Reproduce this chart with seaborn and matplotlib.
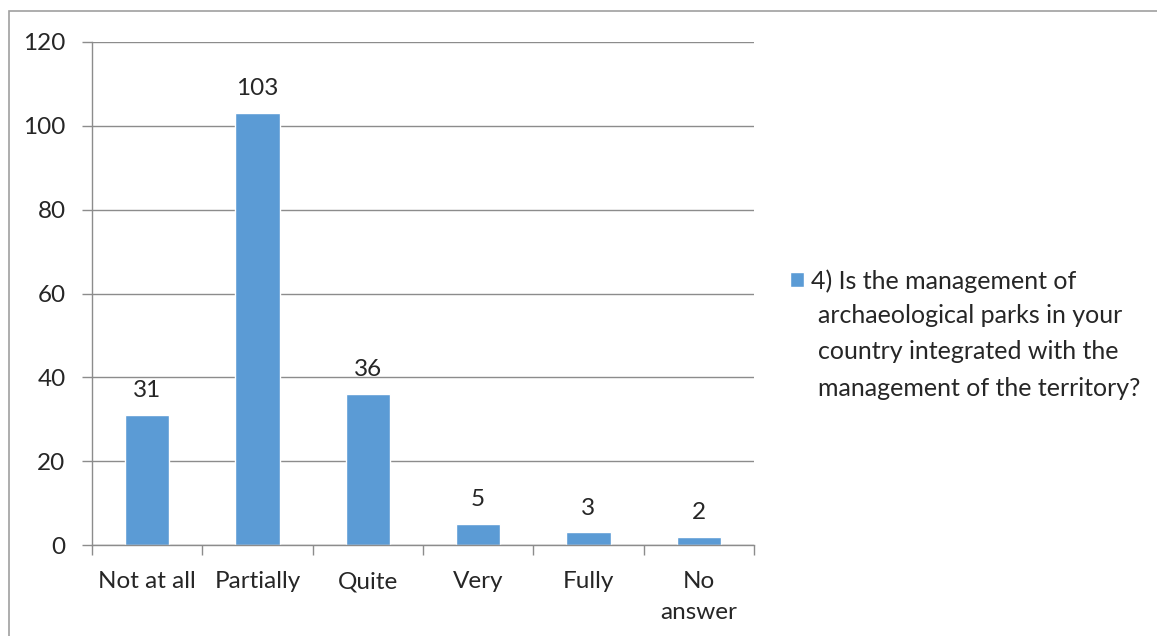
import matplotlib
matplotlib.use('Agg')
import matplotlib.pyplot as plt
import seaborn as sns
import pandas as pd

# survey answers, question 4
categories = ['Not at all', 'Partially', 'Quite', 'Very', 'Fully', 'No\nanswer']
counts = [31, 103, 36, 5, 3, 2]
series_lines = ['4) Is the management of', 'archaeological parks in your',
                'country integrated with the', 'management of the territory?']

df = pd.DataFrame({'answer': categories, 'count': counts})

sns.set_style('white')
plt.rcParams['font.family'] = ['Lato', 'DejaVu Sans']

bar_color = '#5B9BD5'
grid_color = '#8C8C8C'
fs = 17.5

fig = plt.figure(figsize=(11.57, 6.36), dpi=100)
ax = fig.add_axes([92 / 1157, 1 - 545 / 636, (754 - 92) / 1157, (545 - 42) / 636])

sns.barplot(data=df, x='answer', y='count', color=bar_color, width=0.4,
            saturation=1, ax=ax)

ax.set_ylim(0, 120)
ax.set_xlim(-0.5, len(categories) - 0.5)
ax.set_yticks(range(0, 121, 20))
ax.yaxis.grid(True, color=grid_color, linewidth=1)
ax.set_axisbelow(True)
ax.set_xlabel('')
ax.set_ylabel('')

for side in ['top', 'right']:
    ax.spines[side].set_visible(False)
for side in ['left', 'bottom']:
    ax.spines[side].set_color(grid_color)
    ax.spines[side].set_linewidth(1)

# category ticks sit between the bars, labels at the centres
ax.set_xticks([i - 0.5 for i in range(len(categories) + 1)], minor=False)
ax.set_xticklabels([])
ax.set_xticks(range(len(categories)), minor=True)
ax.set_xticklabels(categories, minor=True, fontsize=fs, linespacing=1.55)
ax.tick_params(axis='x', which='major', direction='out', length=7, width=1,
               color=grid_color, bottom=True)
ax.tick_params(axis='x', which='minor', length=0, pad=19)
ax.tick_params(axis='y', direction='out', length=7, width=1, color=grid_color,
               left=True, labelsize=fs, pad=12)

for i, v in enumerate(counts):
    ax.annotate(str(v), (i, v), xytext=(0, 10), textcoords='offset points',
                ha='center', va='bottom', fontsize=fs)

# legend: handle next to the first line, rest of the series name below it
ax.legend([ax.patches[0]], [series_lines[0]], loc='center left',
          bbox_to_anchor=(790 / 1157, 1 - 281 / 636), bbox_transform=fig.transFigure,
          frameon=False, fontsize=18, handlelength=0.55, handleheight=0.55,
          handletextpad=0.3, borderpad=0, borderaxespad=0)
fig.text(818 / 1157, 1 - 304 / 636, '\n'.join(series_lines[1:]), fontsize=18,
         va='top', ha='left', linespacing=1.7)

# chart border
fig.patches.append(plt.Rectangle((9 / 1157, -0.05), 1.1, 1 - 11 / 636 + 0.05,
                                 transform=fig.transFigure, fill=False,
                                 edgecolor='#A0A0A0', linewidth=1.2))

fig.savefig('out.png', dpi=100)
